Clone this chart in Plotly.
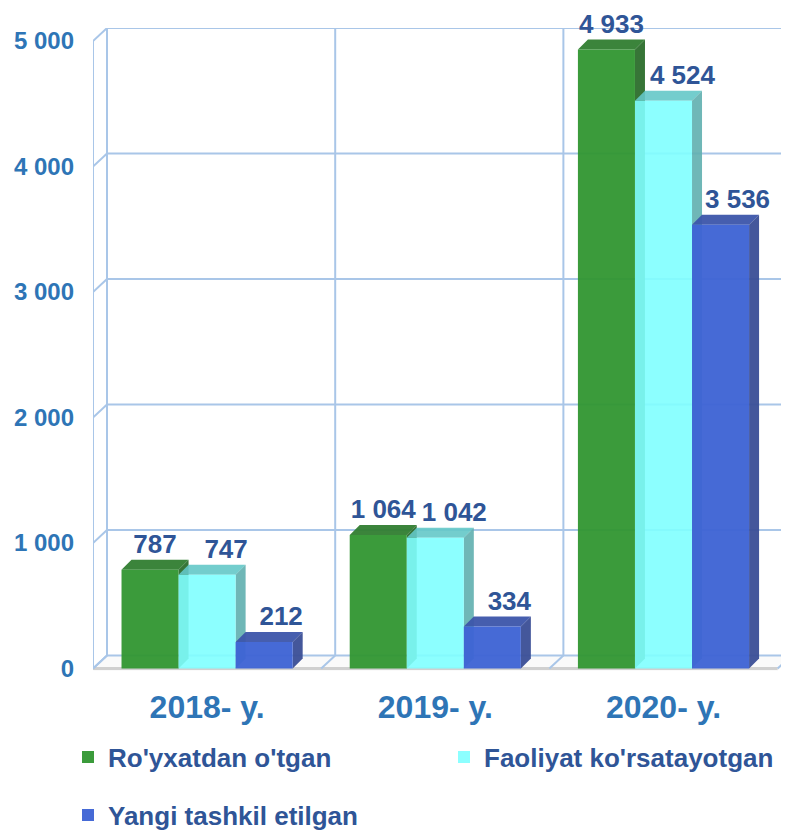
import plotly.graph_objects as go

years = ["2018- y.", "2019- y.", "2020- y."]
registered = [787, 1064, 4933]
active = [747, 1042, 4524]
newly_created = [212, 334, 3536]
series_names = ["Ro'yxatdan o'tgan", "Faoliyat ko'rsatayotgan", "Yangi tashkil etilgan"]
y_ticks = [0, 1000, 2000, 3000, 4000, 5000]
y_tick_text = ["0", "1 000", "2 000", "3 000", "4 000", "5 000"]

series = [registered, active, newly_created]
front_colors = ["rgba(48,150,48,0.95)", "rgba(128,255,255,0.9)", "rgba(62,100,212,0.96)"]
top_colors = ["rgba(48,125,48,0.95)", "rgba(100,200,200,0.9)", "rgba(60,85,170,0.95)"]
side_colors = ["rgba(44,110,44,0.95)", "rgba(95,175,175,0.9)", "rgba(58,78,150,0.95)"]
label_shift_px = [0, 14, 12]
grid_color = "#A9C6E8"
label_color = "#2F5597"
tick_color = "#2E75B6"
font_family = "Liberation Sans, Arial, sans-serif"

# the html body has an 8px margin, so the figure is a bit smaller than the window
BODY = 8
W, H = 789 - BODY, 839 - BODY
M_L, M_R, M_T, M_B = 93 - BODY, 0, 28 - BODY, 168
X_RANGE = [-0.5, 2.55]
Y_RANGE = [-20, 5104]
px_x = (W - M_L - M_R) / (X_RANGE[1] - X_RANGE[0])
px_y = (H - M_T - M_B) / (Y_RANGE[1] - Y_RANGE[0])

# depth of the "3d" walls and bars, in data units
wall_dx, wall_dy = 14 / px_x, 13 / px_y
bar_dx, bar_dy = 10 / px_x, 10 / px_y
BAR_W = 0.25


def fmt(v):
    return f"{v:,}".replace(",", " ")


def line(x0, y0, x1, y1, color=grid_color, width=2, layer="below"):
    return dict(type="line", xref="x", yref="y", x0=x0, y0=y0, x1=x1, y1=y1,
                line=dict(color=color, width=width), layer=layer)


def poly(points, color, layer="between"):
    path = "M" + " L".join(f"{x},{y}" for x, y in points) + " Z"
    return dict(type="path", xref="x", yref="y", path=path, fillcolor=color,
                line=dict(width=0), layer=layer)


shapes = []
left = X_RANGE[0]
# floor
shapes.append(poly([(left, Y_RANGE[0]), (2.5, Y_RANGE[0]), (2.5 + wall_dx, wall_dy),
                    (left + wall_dx, wall_dy)], "#FAFAFA", layer="below"))
shapes.append(line(left, 0, 2.5, 0, color="#D0D0D0", width=3))
for b in [-0.5, 0.5, 1.5, 2.5]:
    shapes.append(line(b, 0, b + wall_dx, wall_dy))
    shapes.append(line(b + wall_dx, wall_dy, b + wall_dx, y_ticks[-1] + wall_dy))
# back wall + left wall
for t in y_ticks:
    shapes.append(line(left + wall_dx, t + wall_dy, X_RANGE[1] + 1, t + wall_dy))
    shapes.append(line(left, t, left + wall_dx, t + wall_dy))
shapes.append(line(left, 0, left, y_ticks[-1]))

fig = go.Figure()
legends = ["legend", "legend2", "legend3"]
for k, (name, vals) in enumerate(zip(series_names, series)):
    offset = -0.375 + k * BAR_W
    fig.add_trace(go.Bar(
        x=list(range(len(years))), y=vals, name=name,
        marker=dict(color=front_colors[k], line=dict(width=0)),
        width=BAR_W, offset=offset, legend=legends[k], hoverinfo="skip",
    ))
    for i, v in enumerate(vals):
        x0 = i + offset
        x1 = x0 + BAR_W
        shapes.append(poly([(x0, v), (x1, v), (x1 + bar_dx, v + bar_dy), (x0 + bar_dx, v + bar_dy)],
                           top_colors[k]))
        shapes.append(poly([(x1, 0), (x1, v), (x1 + bar_dx, v + bar_dy), (x1 + bar_dx, bar_dy)],
                           side_colors[k]))
    shift = label_shift_px[k] / px_x
    fig.add_trace(go.Scatter(
        x=[i + offset + BAR_W / 2 + bar_dx / 2 + shift for i in range(len(years))],
        y=[v + bar_dy for v in vals],
        mode="text", text=[fmt(v) for v in vals], textposition="top center",
        textfont=dict(size=26, color=label_color, family=font_family, weight="bold"),
        cliponaxis=False, showlegend=False, hoverinfo="skip",
    ))


def legend_at(x_px, y_px):
    # x_px, y_px are window pixels
    x_px -= BODY
    y_px -= BODY
    return dict(
        x=(x_px - M_L) / (W - M_L - M_R), y=(H - M_B - y_px) / (H - M_T - M_B),
        xanchor="left", yanchor="middle", orientation="h", itemwidth=30,
        bgcolor="rgba(0,0,0,0)",
        font=dict(size=26, color=label_color, family=font_family, weight="bold"),
    )


fig.update_layout(
    width=W, height=H,
    margin=dict(l=M_L, r=M_R, t=M_T, b=M_B, autoexpand=False),
    paper_bgcolor="white", plot_bgcolor="white",
    font=dict(family=font_family),
    shapes=shapes,
    xaxis=dict(
        range=X_RANGE, tickvals=list(range(len(years))), ticktext=years,
        showgrid=False, zeroline=False, showline=False, ticks="",
        tickfont=dict(size=32, color=tick_color, weight="bold"),
        ticklabelstandoff=14, automargin=False,
    ),
    yaxis=dict(
        range=Y_RANGE, tickvals=y_ticks, ticktext=y_tick_text,
        showgrid=False, zeroline=False, showline=False, ticks="",
        tickfont=dict(size=24, color=tick_color, weight="bold"),
        ticklabelstandoff=18, automargin=False,
    ),
    legend=legend_at(68, 757),
    legend2=legend_at(444, 757),
    legend3=legend_at(68, 815),
)

fig.write_html("out.html")
